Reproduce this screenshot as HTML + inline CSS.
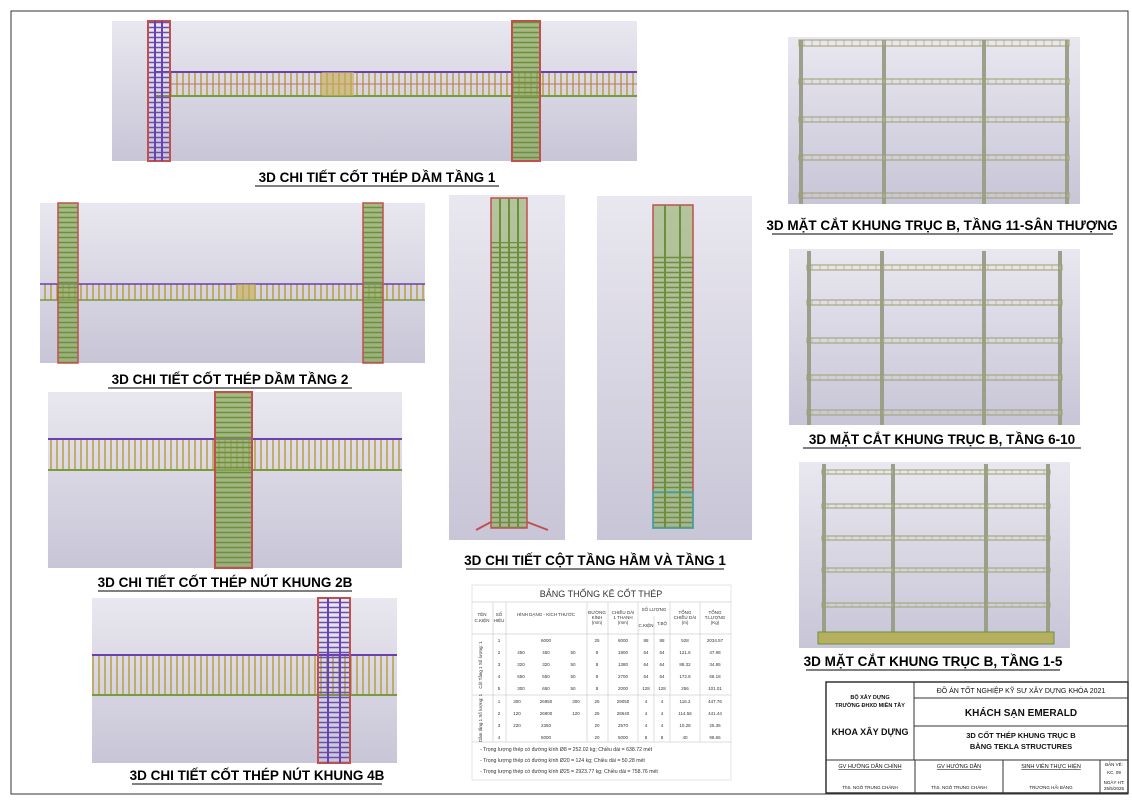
<!DOCTYPE html>
<html><head><meta charset="utf-8"><style>
body{margin:0;background:#fff;width:1132px;height:800px;overflow:hidden;font-family:"Liberation Sans",sans-serif}
</style></head><body>
<svg width="1132" height="800" viewBox="0 0 1132 800" xmlns="http://www.w3.org/2000/svg" font-family="Liberation Sans, sans-serif">
<defs>
<linearGradient id="bg" x1="0" y1="0" x2="0" y2="1"><stop offset="0" stop-color="#e9e7ef"/><stop offset="1" stop-color="#c8c5d7"/></linearGradient>
<pattern id="stirY" width="6" height="24" patternUnits="userSpaceOnUse"><rect width="6" height="24" fill="none"/><line x1="3" y1="0" x2="3" y2="24" stroke="#b9a24a" stroke-width="1.6"/></pattern>
<pattern id="stirX" width="24" height="5" patternUnits="userSpaceOnUse"><line x1="0" y1="2.5" x2="24" y2="2.5" stroke="#6c8f3c" stroke-width="1.4"/></pattern>
<pattern id="stirP" width="24" height="5" patternUnits="userSpaceOnUse"><line x1="0" y1="2.5" x2="24" y2="2.5" stroke="#6a4fb0" stroke-width="1.4"/></pattern>
<pattern id="fb" width="8" height="10" patternUnits="userSpaceOnUse"><line x1="4" y1="0" x2="4" y2="10" stroke="#c9b98a" stroke-width="1"/></pattern>
</defs>
<rect x="11" y="11" width="1117" height="783" fill="none" stroke="#333" stroke-width="1"/>

<!-- Beam 1 -->
<rect x="112" y="21" width="525" height="140" fill="url(#bg)"/>
<rect x="170" y="72" width="467" height="24" fill="url(#stirY)"/>
<line x1="155" y1="72" x2="637" y2="72" stroke="#6a3fb0" stroke-width="2"/>
<line x1="170" y1="84" x2="637" y2="84" stroke="#c0706a" stroke-width="1"/>
<line x1="155" y1="96" x2="637" y2="96" stroke="#7a9a3c" stroke-width="2"/>
<rect x="322" y="72" width="32" height="24" fill="#c6ad55" opacity=".6"/>
<rect x="148" y="21" width="22" height="140" fill="url(#stirP)"/>
<rect x="148" y="21" width="22" height="140" fill="none" stroke="#c0504d" stroke-width="2"/>
<line x1="155" y1="21" x2="155" y2="161" stroke="#6a3fb0" stroke-width="2"/><line x1="162" y1="21" x2="162" y2="161" stroke="#6a3fb0" stroke-width="2"/>
<rect x="512" y="21" width="28" height="140" fill="#8aa75a" opacity=".7"/>
<rect x="512" y="21" width="28" height="140" fill="url(#stirX)"/>
<rect x="512" y="21" width="28" height="140" fill="none" stroke="#c0504d" stroke-width="2"/>
<text x="377" y="182" font-size="13.5" font-weight="bold" text-anchor="middle">3D CHI TIẾT CỐT THÉP DẦM TẦNG 1</text>
<line x1="255" y1="186" x2="499" y2="186" stroke="#000"/>

<!-- Beam 2 -->
<rect x="40" y="203" width="385" height="160" fill="url(#bg)"/>
<rect x="40" y="284" width="385" height="16" fill="url(#stirY)"/>
<line x1="40" y1="284" x2="425" y2="284" stroke="#6a3fb0" stroke-width="1.5"/>
<line x1="40" y1="300" x2="425" y2="300" stroke="#7a9a3c" stroke-width="1.5"/>
<rect x="236" y="284" width="20" height="16" fill="#c6ad55" opacity=".6"/>
<rect x="58" y="203" width="20" height="160" fill="#8aa75a" opacity=".7"/><rect x="58" y="203" width="20" height="160" fill="url(#stirX)"/><rect x="58" y="203" width="20" height="160" fill="none" stroke="#c0504d" stroke-width="1.5"/>
<rect x="363" y="203" width="20" height="160" fill="#8aa75a" opacity=".7"/><rect x="363" y="203" width="20" height="160" fill="url(#stirX)"/><rect x="363" y="203" width="20" height="160" fill="none" stroke="#c0504d" stroke-width="1.5"/>
<text x="230" y="384" font-size="13.5" font-weight="bold" text-anchor="middle">3D CHI TIẾT CỐT THÉP DẦM TẦNG 2</text>
<line x1="108" y1="388" x2="352" y2="388" stroke="#000"/>

<!-- Node 2B -->
<rect x="48" y="392" width="354" height="176" fill="url(#bg)"/>
<rect x="48" y="439" width="354" height="31" fill="url(#stirY)"/>
<line x1="48" y1="439" x2="402" y2="439" stroke="#6a3fb0" stroke-width="2"/>
<line x1="48" y1="470" x2="402" y2="470" stroke="#7a9a3c" stroke-width="2"/>
<rect x="215" y="392" width="37" height="176" fill="#8aa75a" opacity=".7"/><rect x="215" y="392" width="37" height="176" fill="url(#stirX)"/><rect x="215" y="392" width="37" height="176" fill="none" stroke="#c0504d" stroke-width="2"/>
<text x="225" y="587" font-size="13.5" font-weight="bold" text-anchor="middle">3D CHI TIẾT CỐT THÉP NÚT KHUNG 2B</text>
<line x1="98" y1="591" x2="352" y2="591" stroke="#000"/>

<!-- Node 4B -->
<rect x="92" y="598" width="305" height="165" fill="url(#bg)"/>
<rect x="92" y="655" width="305" height="40" fill="url(#stirY)"/>
<line x1="92" y1="655" x2="397" y2="655" stroke="#6a3fb0" stroke-width="2"/>
<line x1="92" y1="695" x2="397" y2="695" stroke="#7a9a3c" stroke-width="2"/>
<rect x="318" y="598" width="32" height="165" fill="url(#stirP)"/>
<rect x="318" y="598" width="32" height="165" fill="none" stroke="#c0504d" stroke-width="2"/>
<line x1="328" y1="598" x2="328" y2="763" stroke="#6a3fb0" stroke-width="2"/><line x1="340" y1="598" x2="340" y2="763" stroke="#6a3fb0" stroke-width="2"/>
<text x="257" y="780" font-size="13.5" font-weight="bold" text-anchor="middle">3D CHI TIẾT CỐT THÉP NÚT KHUNG 4B</text>
<line x1="132" y1="784" x2="382" y2="784" stroke="#000"/>

<!-- Columns -->
<rect x="449" y="195" width="116" height="345" fill="url(#bg)"/>
<rect x="491" y="198" width="36" height="330" fill="#8aa75a" opacity=".55"/>
<rect x="491" y="242" width="36" height="286" fill="url(#stirX)"/>
<rect x="491" y="198" width="36" height="330" fill="none" stroke="#c0504d" stroke-width="1.5"/>
<line x1="500" y1="198" x2="500" y2="528" stroke="#6c8f3c" stroke-width="2"/><line x1="509" y1="198" x2="509" y2="528" stroke="#6c8f3c" stroke-width="2"/><line x1="518" y1="198" x2="518" y2="528" stroke="#6c8f3c" stroke-width="2"/>
<path d="M476 530 L491 522 M527 522 L548 530" stroke="#c0504d" stroke-width="2"/>
<rect x="597" y="196" width="155" height="344" fill="url(#bg)"/>
<rect x="653" y="205" width="40" height="323" fill="#8aa75a" opacity=".55"/>
<rect x="653" y="255" width="40" height="273" fill="url(#stirX)"/>
<rect x="653" y="205" width="40" height="323" fill="none" stroke="#c0504d" stroke-width="1.5"/>
<rect x="653" y="492" width="40" height="36" fill="none" stroke="#3aa" stroke-width="1.5"/>
<line x1="665" y1="205" x2="665" y2="528" stroke="#6c8f3c" stroke-width="2"/><line x1="680" y1="205" x2="680" y2="528" stroke="#6c8f3c" stroke-width="2"/>
<text x="595" y="565" font-size="13.5" font-weight="bold" text-anchor="middle">3D CHI TIẾT CỘT TẦNG HẦM VÀ TẦNG 1</text>
<line x1="466" y1="569" x2="724" y2="569" stroke="#000"/>

<!-- Frames -->
<g>
<rect x="788" y="37" width="292" height="167" fill="url(#bg)"/>
<g fill="#9aa08a"><rect x="799" y="40" width="4" height="164"/><rect x="882" y="40" width="4" height="164"/><rect x="982" y="40" width="4" height="164"/><rect x="1065" y="40" width="4" height="164"/></g>
<g fill="url(#fb)" stroke="#9aa070" stroke-width="1"><rect x="799" y="40" width="270" height="6"/><rect x="799" y="79" width="270" height="5"/><rect x="799" y="117" width="270" height="5"/><rect x="799" y="155" width="270" height="5"/><rect x="799" y="193" width="270" height="5"/></g>
</g>
<text x="942" y="230" font-size="13.5" font-weight="bold" text-anchor="middle">3D MẶT CẮT KHUNG TRỤC B, TẦNG 11-SÂN THƯỢNG</text>
<line x1="772" y1="234" x2="1113" y2="234" stroke="#000"/>
<g>
<rect x="789" y="249" width="291" height="176" fill="url(#bg)"/>
<g fill="#9aa08a"><rect x="807" y="251" width="4" height="174"/><rect x="880" y="251" width="4" height="174"/><rect x="982" y="251" width="4" height="174"/><rect x="1058" y="251" width="4" height="174"/></g>
<g fill="url(#fb)" stroke="#9aa070" stroke-width="1"><rect x="807" y="265" width="255" height="5"/><rect x="807" y="300" width="255" height="5"/><rect x="807" y="338" width="255" height="5"/><rect x="807" y="375" width="255" height="5"/><rect x="807" y="410" width="255" height="5"/></g>
</g>
<text x="942" y="444" font-size="13.5" font-weight="bold" text-anchor="middle">3D MẶT CẮT KHUNG TRỤC B, TẦNG 6-10</text>
<line x1="803" y1="448" x2="1081" y2="448" stroke="#000"/>
<g>
<rect x="799" y="462" width="271" height="186" fill="url(#bg)"/>
<g fill="#9aa08a"><rect x="822" y="464" width="4" height="172"/><rect x="891" y="464" width="4" height="172"/><rect x="984" y="464" width="4" height="172"/><rect x="1046" y="464" width="4" height="172"/></g>
<g fill="url(#fb)" stroke="#9aa070" stroke-width="1"><rect x="822" y="470" width="228" height="4"/><rect x="822" y="504" width="228" height="4"/><rect x="822" y="536" width="228" height="4"/><rect x="822" y="568" width="228" height="4"/><rect x="822" y="603" width="228" height="4"/></g>
<rect x="818" y="632" width="236" height="12" fill="#b5b060" stroke="#6c8f3c"/>
</g>
<text x="933" y="666" font-size="13.5" font-weight="bold" text-anchor="middle">3D MẶT CẮT KHUNG TRỤC B, TẦNG 1-5</text>
<line x1="806" y1="670" x2="1060" y2="670" stroke="#000"/>

<!-- Table -->
<g font-size="4.5" fill="#333" text-anchor="middle" stroke-width=".5">
<rect x="472" y="585" width="259" height="195" fill="#fff" stroke="#ccc"/>
<text x="601" y="597" font-size="9">BẢNG THỐNG KÊ CỐT THÉP</text>
<g stroke="#bbb" fill="none">
<line x1="472" y1="602" x2="731" y2="602"/><line x1="472" y1="634" x2="731" y2="634"/><line x1="472" y1="695" x2="731" y2="695"/><line x1="472" y1="742" x2="731" y2="742"/>
<line x1="493" y1="602" x2="493" y2="742"/><line x1="506" y1="602" x2="506" y2="742"/><line x1="587" y1="602" x2="587" y2="742"/><line x1="608" y1="602" x2="608" y2="742"/><line x1="638" y1="602" x2="638" y2="742"/><line x1="654" y1="616" x2="654" y2="742"/><line x1="670" y1="602" x2="670" y2="742"/><line x1="700" y1="602" x2="700" y2="742"/>
</g>
<text x="482" y="616">TÊN</text><text x="482" y="622">C.KIỆN</text><text x="499" y="616">SỐ</text><text x="499" y="622">HIỆU</text>
<text x="546" y="616">HÌNH DẠNG - KÍCH THƯỚC</text><text x="597" y="614">ĐƯỜNG</text><text x="597" y="619">KÍNH</text><text x="597" y="624">(mm)</text>
<text x="623" y="614">CHIỀU DÀI</text><text x="623" y="619">1 THANH</text><text x="623" y="624">(mm)</text><text x="654" y="611">SỐ LƯỢNG</text><text x="646" y="627">C.KIỆN</text><text x="662" y="625">T.BỘ</text>
<text x="685" y="614">TỔNG</text><text x="685" y="619">CHIỀU DÀI</text><text x="685" y="624">(m)</text><text x="715" y="614">TỔNG</text><text x="715" y="619">T.LƯỢNG</text><text x="715" y="624">(Kg)</text>
<text x="499" y="642">1</text><text x="546" y="642">6000</text><text x="597" y="642">25</text><text x="623" y="642">6000</text><text x="646" y="642">88</text><text x="662" y="642">88</text><text x="685" y="642">528</text><text x="715" y="642">2034.57</text>
<text x="499" y="654">2</text><text x="521" y="654">450</text><text x="546" y="654">450</text><text x="573" y="654">50</text><text x="597" y="654">8</text><text x="623" y="654">1900</text><text x="646" y="654">64</text><text x="662" y="654">64</text><text x="685" y="654">121.6</text><text x="715" y="654">47.98</text>
<text x="499" y="666">3</text><text x="521" y="666">320</text><text x="546" y="666">320</text><text x="573" y="666">50</text><text x="597" y="666">8</text><text x="623" y="666">1380</text><text x="646" y="666">64</text><text x="662" y="666">64</text><text x="685" y="666">88.32</text><text x="715" y="666">34.85</text>
<text x="499" y="678">4</text><text x="521" y="678">650</text><text x="546" y="678">650</text><text x="573" y="678">50</text><text x="597" y="678">8</text><text x="623" y="678">2700</text><text x="646" y="678">64</text><text x="662" y="678">64</text><text x="685" y="678">172.8</text><text x="715" y="678">68.18</text>
<text x="499" y="690">5</text><text x="521" y="690">300</text><text x="546" y="690">650</text><text x="573" y="690">50</text><text x="597" y="690">8</text><text x="623" y="690">2000</text><text x="646" y="690">128</text><text x="662" y="690">128</text><text x="685" y="690">256</text><text x="715" y="690">101.01</text>
<text x="499" y="703">1</text><text x="517" y="703">300</text><text x="546" y="703">26950</text><text x="576" y="703">300</text><text x="597" y="703">25</text><text x="623" y="703">29050</text><text x="646" y="703">4</text><text x="662" y="703">4</text><text x="685" y="703">116.2</text><text x="715" y="703">447.76</text>
<text x="499" y="715">2</text><text x="517" y="715">120</text><text x="546" y="715">26900</text><text x="576" y="715">120</text><text x="597" y="715">25</text><text x="623" y="715">28640</text><text x="646" y="715">4</text><text x="662" y="715">4</text><text x="685" y="715">114.56</text><text x="715" y="715">441.44</text>
<text x="499" y="727">3</text><text x="517" y="727">220</text><text x="546" y="727">2350</text><text x="597" y="727">20</text><text x="623" y="727">2570</text><text x="646" y="727">4</text><text x="662" y="727">4</text><text x="685" y="727">10.28</text><text x="715" y="727">25.35</text>
<text x="499" y="739">4</text><text x="546" y="739">5000</text><text x="597" y="739">20</text><text x="623" y="739">5000</text><text x="646" y="739">8</text><text x="662" y="739">8</text><text x="685" y="739">40</text><text x="715" y="739">98.65</text>
<text x="482" y="665" transform="rotate(-90 482 665)">Cột Tầng 1 Số lượng: 1</text>
<text x="482" y="718" transform="rotate(-90 482 718)">Dầm tầng 1 Số lượng: 1</text>
<g text-anchor="start" font-size="5.2"><text x="480" y="751">- Trọng lượng thép có đường kính Ø8  =  252.02 kg; Chiều dài = 638.72 mét</text>
<text x="480" y="762">- Trọng lượng thép có đường kính Ø20  =  124 kg; Chiều dài = 50.28 mét</text>
<text x="480" y="773">- Trọng lượng thép có đường kính Ø25  =  2923.77 kg; Chiều dài = 758.76 mét</text></g>
</g>

<!-- Title block -->
<g stroke="#333" fill="none" stroke-width="1">
<rect x="826" y="682" width="302" height="111" stroke-width="1.5"/>
<line x1="914" y1="682" x2="914" y2="760"/><line x1="914" y1="698" x2="1128" y2="698"/><line x1="914" y1="726" x2="1128" y2="726"/><line x1="826" y1="760" x2="1128" y2="760"/>
<line x1="915" y1="760" x2="915" y2="793"/><line x1="1003" y1="760" x2="1003" y2="793"/><line x1="1100" y1="760" x2="1100" y2="793"/>
</g>
<g text-anchor="middle" fill="#111">
<text x="870" y="699" font-size="5.5" font-weight="bold">BỘ XÂY DỰNG</text><text x="870" y="707" font-size="5.5" font-weight="bold">TRƯỜNG ĐHXD MIỀN TÂY</text>
<text x="870" y="735" font-size="9" font-weight="bold">KHOA XÂY DỰNG</text>
<text x="1021" y="693" font-size="7">ĐỒ ÁN TỐT NGHIỆP KỸ SƯ XÂY DỰNG KHÓA 2021</text>
<text x="1021" y="716" font-size="10" font-weight="bold">KHÁCH SẠN EMERALD</text>
<text x="1021" y="738" font-size="7.5" font-weight="bold">3D CỐT THÉP KHUNG TRỤC B</text>
<text x="1021" y="749" font-size="7.5" font-weight="bold">BẰNG TEKLA STRUCTURES</text>
<g font-size="5.5" text-decoration="underline"><text x="870" y="768">GV HƯỚNG DẪN CHÍNH</text><text x="959" y="768">GV HƯỚNG DẪN</text><text x="1051" y="768">SINH VIÊN THỰC HIỆN</text></g>
<g font-size="4.5"><text x="870" y="789">ThS. NGÔ TRUNG CHÁNH</text><text x="959" y="789">ThS. NGÔ TRUNG CHÁNH</text><text x="1051" y="789">TRƯƠNG HẢI BĂNG</text>
<text x="1114" y="766">BẢN VẼ:</text><text x="1114" y="774">KC. 09</text><text x="1114" y="784">NGÀY HT:</text><text x="1114" y="790">25/5/2025</text></g>
</g>
</svg>
</body></html>
